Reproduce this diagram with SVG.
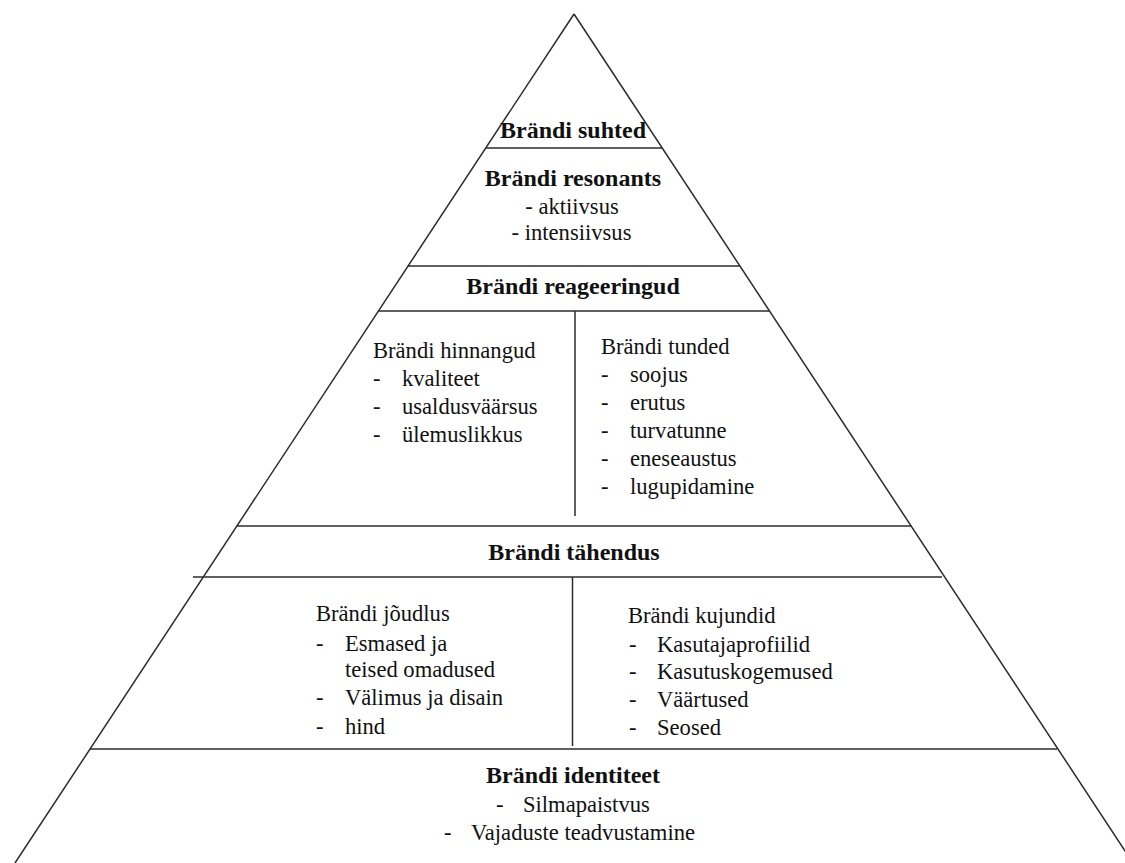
<svg xmlns="http://www.w3.org/2000/svg" width="1125" height="863" viewBox="0 0 1125 863">
<style>
.ln{stroke:#2b2b2b;stroke-width:1.5;fill:none}
.h{font-family:'Liberation Serif','Times New Roman',Times,Tinos,'DejaVu Serif',serif;font-size:24px;font-weight:bold;fill:#111;text-anchor:middle}
.c{font-family:'Liberation Serif','Times New Roman',Times,Tinos,'DejaVu Serif',serif;font-size:22.6px;fill:#111;text-anchor:middle}
.t{font-family:'Liberation Serif','Times New Roman',Times,Tinos,'DejaVu Serif',serif;font-size:22.6px;fill:#111}
</style>
<rect width="1125" height="863" fill="#fff"/>
<g id="connectors">
<line class="ln" x1="574" y1="14" x2="15" y2="863"/>
<line class="ln" x1="574" y1="14" x2="1133" y2="863"/>
<line class="ln" x1="486" y1="148" x2="662" y2="148"/>
<line class="ln" x1="408" y1="266" x2="740" y2="266"/>
<line class="ln" x1="379" y1="311" x2="769" y2="311"/>
<line class="ln" x1="237" y1="526" x2="911" y2="526"/>
<line class="ln" x1="193" y1="577" x2="942" y2="577"/>
<line class="ln" x1="90" y1="749" x2="1057" y2="749"/>
<line class="ln" x1="575" y1="311" x2="575" y2="516"/>
<line class="ln" x1="572.5" y1="577" x2="572.5" y2="746"/>
</g>
<g id="suhted">
<text class="h" x="573" y="138">Brändi suhted</text>
</g>
<g id="resonants">
<text class="h" x="573" y="186">Brändi resonants</text>
<text class="c" x="572" y="214">- aktiivsus</text>
<text class="c" x="571.5" y="240">- intensiivsus</text>
</g>
<g id="reageeringud">
<text class="h" x="573" y="294">Brändi reageeringud</text>
</g>
<g id="hinnangud">
<text class="t" x="373" y="358">Brändi hinnangud</text>
<text class="t" x="373" y="386">-</text><text class="t" x="402" y="386">kvaliteet</text>
<text class="t" x="373" y="414">-</text><text class="t" x="402" y="414">usaldusväärsus</text>
<text class="t" x="373" y="442">-</text><text class="t" x="402" y="442">ülemuslikkus</text>
</g>
<g id="tunded">
<text class="t" x="601" y="354">Brändi tunded</text>
<text class="t" x="601" y="382">-</text><text class="t" x="630" y="382">soojus</text>
<text class="t" x="601" y="410">-</text><text class="t" x="630" y="410">erutus</text>
<text class="t" x="601" y="438">-</text><text class="t" x="630" y="438">turvatunne</text>
<text class="t" x="601" y="466">-</text><text class="t" x="630" y="466">eneseaustus</text>
<text class="t" x="601" y="494">-</text><text class="t" x="630" y="494">lugupidamine</text>
</g>
<g id="tahendus">
<text class="h" x="574" y="560">Brändi tähendus</text>
</g>
<g id="joudlus">
<text class="t" x="316" y="621">Brändi jõudlus</text>
<text class="t" x="316" y="651">-</text><text class="t" x="345" y="651">Esmased ja</text>
<text class="t" x="345" y="677">teised omadused</text>
<text class="t" x="316" y="705">-</text><text class="t" x="345" y="705">Välimus ja disain</text>
<text class="t" x="316" y="734">-</text><text class="t" x="345" y="734">hind</text>
</g>
<g id="kujundid">
<text class="t" x="628" y="623">Brändi kujundid</text>
<text class="t" x="629" y="652">-</text><text class="t" x="657" y="652">Kasutajaprofiilid</text>
<text class="t" x="629" y="679">-</text><text class="t" x="657" y="679">Kasutuskogemused</text>
<text class="t" x="629" y="707">-</text><text class="t" x="657" y="707">Väärtused</text>
<text class="t" x="629" y="735">-</text><text class="t" x="657" y="735">Seosed</text>
</g>
<g id="identiteet">
<text class="h" x="573" y="783">Brändi identiteet</text>
<text class="t" x="496" y="812">-</text><text class="t" x="523" y="812">Silmapaistvus</text>
<text class="t" x="444" y="840">-</text><text class="t" x="471" y="840">Vajaduste teadvustamine</text>
</g>
</svg>
